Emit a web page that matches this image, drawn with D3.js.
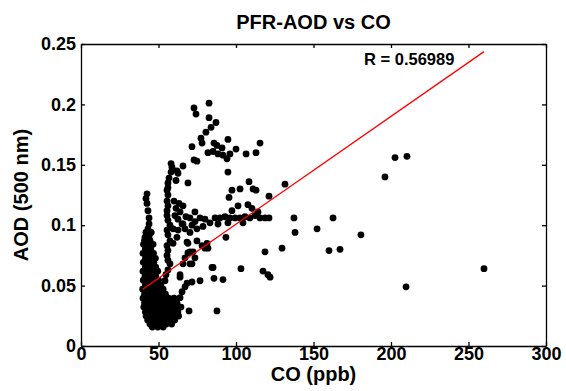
<!DOCTYPE html>
<html>
<head>
  <meta charset="utf-8">
  <script src="https://cdnjs.cloudflare.com/ajax/libs/d3/7.8.5/d3.min.js"></script>
  <style>
    body { margin: 0; padding: 0; background: #fff; }
    text { font-family: "Liberation Sans", Arial, sans-serif; font-weight: bold; fill: #000; }
    .axis path, .axis line { stroke: #000; stroke-width: 1.3px; }
    .axis text { font-size: 18px; }
  </style>
</head>
<body>
<svg width="566" height="391"></svg>
<script>
// tick values
var xTicks = [0, 50, 100, 150, 200, 250, 300];
var yTicks = [0, 0.05, 0.1, 0.15, 0.2, 0.25];

// regression line
var fitSlope = 0.000893,
  fitIntercept = 0.0115,
  rLabel = "R = 0.56989";

// scatter points [CO (ppb), AOD], grouped by region of the plot
var mainColumn = [
  [42.6, 0.126], [41.9, 0.122], [42.6, 0.118], [43.2, 0.112], [43.9, 0.106], [43.9, 0.101],
  [43.2, 0.097], [41.9, 0.094], [41.3, 0.090], [43.9, 0.091], [45.3, 0.094],
  [41.0, 0.0875], [44.5, 0.0875],
  [40.3, 0.0842], [43.5, 0.0842], [46.5, 0.0842],
  [41.5, 0.0800], [45.0, 0.0800],
  [40.0, 0.0767], [43.2, 0.0767], [46.8, 0.0767],
  [41.6, 0.0726], [45.2, 0.0726], [48.0, 0.0726],
  [40.2, 0.0693], [43.6, 0.0693], [47.0, 0.0693],
  [41.5, 0.0652], [45.0, 0.0652], [48.2, 0.0652],
  [40.0, 0.0619], [43.3, 0.0619], [46.7, 0.0619], [49.5, 0.0619],
  [41.3, 0.0578], [44.8, 0.0578], [48.2, 0.0578],
  [40.2, 0.0545], [43.4, 0.0545], [46.8, 0.0545], [50.0, 0.0545],
  [41.5, 0.0503], [45.0, 0.0503], [48.5, 0.0503], [51.5, 0.0503]
];

var lowerBlob = [
  [39.8, 0.0470], [43.3, 0.0470], [46.8, 0.0470], [50.3, 0.0470], [53.0, 0.0470],
  [41.0, 0.0429], [44.5, 0.0429], [48.0, 0.0429], [51.5, 0.0429], [54.5, 0.0429],
  [40.0, 0.0396], [43.0, 0.0396], [46.5, 0.0396], [50.0, 0.0396], [53.0, 0.0396], [56.5, 0.0396], [60.0, 0.0396],
  [41.0, 0.0355], [44.5, 0.0355], [48.0, 0.0355], [51.5, 0.0355], [55.0, 0.0355], [58.5, 0.0355], [62.0, 0.0355],
  [40.5, 0.0322], [43.5, 0.0322], [47.0, 0.0322], [50.5, 0.0322], [54.0, 0.0322], [57.5, 0.0322], [61.0, 0.0322], [64.5, 0.0322],
  [41.5, 0.0281], [45.0, 0.0281], [48.5, 0.0281], [52.0, 0.0281], [55.5, 0.0281], [59.0, 0.0281], [62.5, 0.0281],
  [42.0, 0.0248], [45.5, 0.0248], [49.0, 0.0248], [52.5, 0.0248], [56.0, 0.0248], [59.5, 0.0248], [63.0, 0.0248],
  [43.0, 0.0215], [46.5, 0.0215], [50.0, 0.0215], [53.5, 0.0215], [57.0, 0.0215], [60.5, 0.0215],
  [44.5, 0.0182], [48.0, 0.0182], [51.5, 0.0182], [55.0, 0.0182], [58.5, 0.0182],
  [46.0, 0.0157], [49.5, 0.0157], [53.0, 0.0157]
];

var secondStrand = [
  [58.1, 0.151], [58.7, 0.148], [58.1, 0.144], [56.8, 0.139], [56.1, 0.135], [56.1, 0.131],
  [55.5, 0.129], [56.1, 0.125], [55.5, 0.120], [56.1, 0.116], [55.5, 0.112], [55.5, 0.108],
  [56.1, 0.104], [57.4, 0.100], [55.5, 0.096], [56.1, 0.092], [57.4, 0.087], [55.5, 0.083],
  [56.1, 0.079], [55.5, 0.075], [56.1, 0.071], [57.4, 0.068], [56.1, 0.063], [54.8, 0.059],
  [54.2, 0.054],
  [61.9, 0.145], [62.6, 0.143], [65.8, 0.149], [61.3, 0.137], [69.0, 0.135]
];

var middlePoints = [
  [60.0, 0.120], [63.2, 0.118], [65.8, 0.116], [61.3, 0.114], [73.5, 0.111], [63.9, 0.111],
  [59.4, 0.097], [65.2, 0.101], [62.6, 0.096], [67.1, 0.097], [70.3, 0.094], [74.8, 0.097],
  [61.9, 0.090], [59.4, 0.085], [68.4, 0.086], [70.3, 0.078],
  [69.0, 0.085], [74.8, 0.087], [78.1, 0.083], [81.3, 0.085], [81.9, 0.081], [80.0, 0.081],
  [72.3, 0.078], [69.0, 0.077], [67.1, 0.073], [73.5, 0.073], [71.6, 0.068], [65.8, 0.068],
  [70.3, 0.068], [63.9, 0.059], [63.9, 0.057], [68.4, 0.052], [71.6, 0.053], [67.1, 0.049],
  [65.2, 0.045], [63.9, 0.040], [76.8, 0.054], [85.8, 0.056], [91.6, 0.055], [85.2, 0.065],
  [84.5, 0.065], [93.5, 0.090], [103.2, 0.064], [69.7, 0.029], [87.7, 0.029]
];

var bandPoints = [
  [60.6, 0.108], [62.6, 0.105], [65.8, 0.101], [67.7, 0.107], [70.3, 0.106], [71.6, 0.100],
  [73.5, 0.103], [76.8, 0.106], [78.7, 0.099], [80.0, 0.105], [83.2, 0.102], [86.5, 0.106],
  [88.4, 0.101], [89.7, 0.106], [92.9, 0.107], [94.8, 0.102], [96.1, 0.106], [99.4, 0.106],
  [102.6, 0.106], [104.5, 0.102], [105.8, 0.107], [109.0, 0.106], [112.3, 0.108], [114.2, 0.111],
  [115.5, 0.106], [118.7, 0.106], [121.3, 0.106], [97.4, 0.112], [110.3, 0.114], [101.3, 0.116],
  [107.7, 0.117], [95.5, 0.123], [97.4, 0.129], [102.6, 0.130], [108.4, 0.136], [111.0, 0.130],
  [112.9, 0.129], [121.3, 0.124], [131.6, 0.134]
];

var upperArc = [
  [72.9, 0.197], [74.2, 0.192], [82.6, 0.201], [82.6, 0.189], [87.1, 0.185], [83.9, 0.181],
  [80.6, 0.177], [77.4, 0.172], [78.1, 0.168], [71.6, 0.165], [85.8, 0.168], [87.7, 0.166],
  [91.0, 0.164], [94.8, 0.171], [81.9, 0.160], [85.2, 0.161], [88.4, 0.159], [91.6, 0.158],
  [72.9, 0.154], [74.8, 0.153], [94.2, 0.155], [96.1, 0.159], [100.0, 0.163], [106.5, 0.159],
  [112.9, 0.160], [115.5, 0.168], [94.8, 0.144]
];

var outliers = [
  [137.4, 0.106], [138.1, 0.094], [129.7, 0.081], [118.7, 0.078], [117.4, 0.062], [120.6, 0.059],
  [122.0, 0.057], [152.3, 0.097], [160.0, 0.079], [167.1, 0.080], [162.6, 0.106], [180.6, 0.092],
  [196.1, 0.140], [202.6, 0.156], [210.3, 0.157], [209.7, 0.049], [260.0, 0.064]
];

var points = [].concat(mainColumn, lowerBlob, secondStrand, middlePoints, bandPoints, upperArc, outliers);

var svg = d3.select("svg"),
  margin = { top: 44, right: 20, bottom: 45, left: 81 },
  width = 566 - margin.left - margin.right,
  height = 391 - margin.top - margin.bottom,
  g = svg.append("g").attr("transform", "translate(" + margin.left + "," + margin.top + ")");

var x = d3.scaleLinear().domain([0, 300]).range([0, width]),
  y = d3.scaleLinear().domain([0, 0.25]).range([height, 0]);

// box with inward ticks on all four sides
g.append("g").attr("class", "axis")
  .attr("transform", "translate(0," + height + ")")
  .call(d3.axisBottom(x).tickValues(xTicks).tickSizeInner(-4).tickSizeOuter(0).tickPadding(1));
g.append("g").attr("class", "axis")
  .call(d3.axisLeft(y).tickValues(yTicks).tickSizeInner(-4).tickSizeOuter(0).tickPadding(5)
    .tickFormat(function(d) { return d3.format("")(+d.toFixed(2)); }));
g.append("g").attr("class", "axis")
  .call(d3.axisTop(x).tickValues(xTicks).tickSizeInner(-4).tickSizeOuter(0).tickFormat(""));
g.append("g").attr("class", "axis")
  .attr("transform", "translate(" + width + ",0)")
  .call(d3.axisRight(y).tickValues(yTicks).tickSizeInner(-4).tickSizeOuter(0).tickFormat(""));

// points
g.append("g").selectAll("circle")
  .data(points)
  .enter().append("circle")
  .attr("cx", function(d) { return x(d[0]); })
  .attr("cy", function(d) { return y(d[1]); })
  .attr("r", 3.4)
  .attr("fill", "#000");

// fit line over the CO range of the data
var coExtent = d3.extent(points, function(d) { return d[0]; });
g.append("line")
  .attr("x1", x(coExtent[0])).attr("y1", y(fitIntercept + fitSlope * coExtent[0]))
  .attr("x2", x(coExtent[1])).attr("y2", y(fitIntercept + fitSlope * coExtent[1]))
  .attr("stroke", "#ff0000")
  .attr("stroke-width", 1.3);

g.append("text")
  .attr("x", 283).attr("y", 21)
  .style("font-size", "16.5px")
  .text(rLabel);

// titles
svg.append("text")
  .attr("x", margin.left + width / 2).attr("y", 29)
  .attr("text-anchor", "middle")
  .style("font-size", "20px")
  .text("PFR-AOD vs CO");

svg.append("text")
  .attr("x", margin.left + width / 2).attr("y", 381)
  .attr("text-anchor", "middle")
  .style("font-size", "20px")
  .text("CO (ppb)");

svg.append("text")
  .attr("transform", "translate(28," + (margin.top + height / 2) + ") rotate(-90)")
  .attr("text-anchor", "middle")
  .style("font-size", "20px")
  .text("AOD (500 nm)");
</script>
</body>
</html>
